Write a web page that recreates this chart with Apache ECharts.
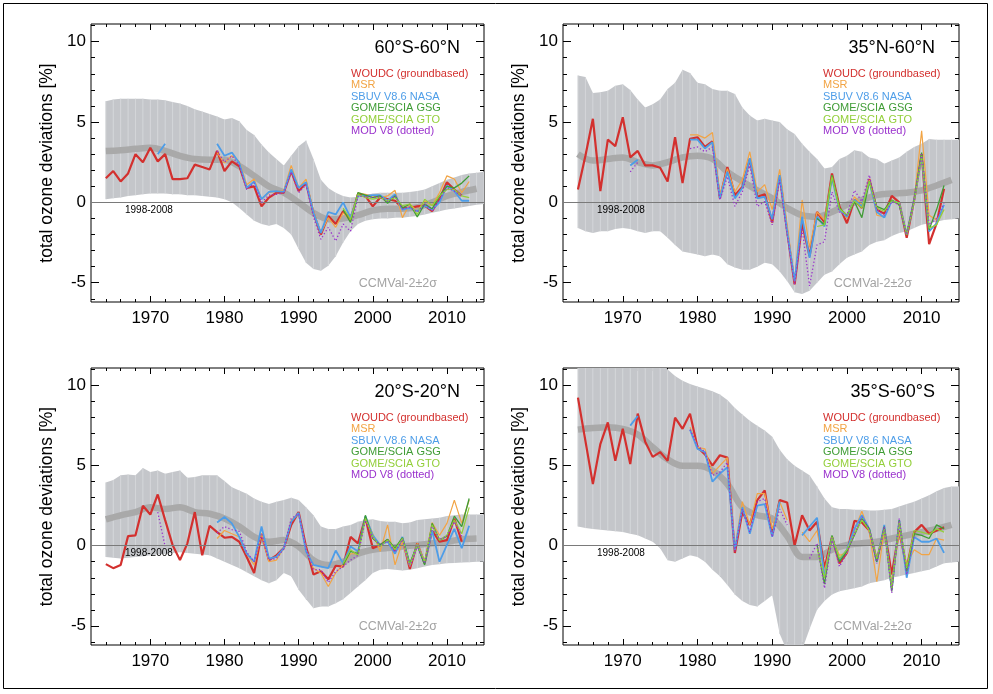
<!DOCTYPE html>
<html>
<head>
<meta charset="utf-8">
<script src="https://cdn.jsdelivr.net/npm/echarts@6/dist/echarts.min.js"></script>
<style>
  html, body { margin: 0; padding: 0; background: #fff; }
  #chart { width: 993px; height: 694px; }
</style>
</head>
<body>
<div id="chart"></div>
<script>
const _ = null;

// years of the observed series
const YEARS = [1964,1965,1966,1967,1968,1969,1970,1971,1972,1973,
               1974,1975,1976,1977,1978,1979,1980,1981,1982,1983,
               1984,1985,1986,1987,1988,1989,1990,1991,1992,1993,
               1994,1995,1996,1997,1998,1999,2000,2001,2002,2003,
               2004,2005,2006,2007,2008,2009,2010,2011,2012,2013];
// years of the CCMVal-2 envelope
const BAND_YEARS = YEARS.concat([2014, 2015]);
const MEAN_YEARS = [1964,1966,1968,1970,1972,1974,1976,1978,1980,1982,1984,1986,1988,
                    1990,1992,1994,1996,1998,2000,2002,2004,2006,2008,2010,2012,2014];

const X_LABELS = [1970, 1980, 1990, 2000, 2010];
const Y_LABELS = [-5, 0, 5, 10];
const SERIES_NAMES = ['WOUDC (groundbased)', 'MSR', 'SBUV V8.6 NASA', 'GOME/SCIA GSG', 'GOME/SCIA GTO', 'MOD V8 (dotted)'];
const TITLES = ['60°S-60°N', '35°N-60°N', '20°S-20°N', '35°S-60°S'];

// ---- 60S-60N
const P1_WOUDC = [1.5,1.95,1.3,1.8,3.0,2.5,3.4,2.55,3.0,1.45, 1.45,1.5,2.35,2.2,2.05,3.2,1.95,2.55,2.25,0.9,
                  1.0,-0.25,0.3,0.6,0.6,1.95,0.7,1.2,-0.65,-2.0, -0.85,-1.35,-0.55,-1.05,0.5,0.4,-0.25,0.3,0.2,0.1,
                  -0.35,-0.35,-0.25,-0.2,-0.55,0.2,1.25,0.8,0.4,_];
const P1_MSR   = [_,_,_,_,_,_,_,_,_,_, _,_,_,_,_,3.1,2.45,2.9,2.55,1.1,
                  1.45,0.2,0.6,0.7,0.75,2.3,0.9,1.45,-0.55,-1.9, -0.95,-1.55,-0.65,-1.15,0.6,0.5,0.4,0.3,0.4,0.75,
                  -0.95,-0.1,-0.55,0.1,-0.2,0.6,1.65,1.45,0.6,1.3];
const P1_SBUV  = [_,_,_,_,_,_,_,3.0,3.65,_, _,_,_,_,_,3.65,2.9,3.1,2.45,0.9,
                  1.3,0.2,0.65,0.7,0.65,2.05,0.9,1.25,-0.65,-1.9, -0.6,-0.75,0.0,-0.95,0.4,0.4,0.45,0.45,0.1,0.5,
                  -0.45,-0.35,-0.55,-0.2,-0.45,0.0,1.05,0.7,0.1,0.1];
const P1_GSG   = [_,_,_,_,_,_,_,_,_,_, _,_,_,_,_,_,_,_,_,_, _,_,_,_,_,_,_,_,_,_,
                  _,_,-0.45,-1.25,0.6,0.45,0.3,0.4,-0.05,0.4, -0.35,-0.1,-0.9,-0.1,-0.4,0.4,1.0,0.9,1.2,1.65];
const P1_GTO   = [_,_,_,_,_,_,_,_,_,_, _,_,_,_,_,_,_,_,_,_, _,_,_,_,_,_,_,_,_,_,
                  _,_,-0.35,-1.05,0.5,0.3,0.2,0.3,0.1,0.3, -0.2,-0.1,-0.75,0.2,-0.2,0.4,0.8,0.8,0.4,0.3];
const P1_MOD   = [_,_,_,_,_,_,_,_,_,_, _,_,_,_,_,3.2,2.5,2.9,2.3,0.8,
                  1.2,0.0,0.45,0.5,0.6,1.9,0.6,1.1,-0.9,-2.3, -1.55,-2.4,-1.35,-1.8,0.4,0.35,0.3,0.35,0.05,0.4,
                  -0.4,-0.3,-0.6,-0.1,-0.55,0.2,0.9,0.7,0.4,_];
const P1_HI    = [6.3,6.4,6.45,6.45,6.45,6.45,6.4,6.4,6.35,6.25, 6.15,6.0,5.8,5.65,5.5,5.35,5.15,5.25,5.05,4.5,
                  4.2,3.6,3.1,2.7,2.3,2.9,3.5,3.85,2.7,1.4, 0.9,0.6,0.4,0.3,0.35,0.45,0.55,0.6,0.6,0.6,
                  0.6,0.65,0.7,0.8,1.0,1.2,1.4,1.55,1.7,1.8, 1.85,1.9];
const P1_LO    = [0.2,0.25,0.3,0.4,0.45,0.5,0.55,0.55,0.55,0.5, 0.5,0.45,0.45,0.4,0.35,0.3,0.2,0.0,-0.35,-0.75,
                  -1.15,-1.35,-1.45,-1.35,-1.6,-2.0,-2.9,-3.75,-4.15,-4.25, -3.95,-3.35,-2.5,-1.8,-1.35,-1.15,-1.05,-1.0,-1.0,-0.95,
                  -0.95,-0.9,-0.85,-0.75,-0.65,-0.55,-0.45,-0.38,-0.3,-0.22, -0.15,-0.1];
const P1_MEAN  = [3.2,3.25,3.33,3.4,3.2,2.9,2.7,2.65,2.65,2.25,1.65,1.0,0.6,
                  0.0,-0.65,-1.05,-1.0,-0.8,-0.5,-0.4,-0.4,-0.3,0.0,0.4,0.65,0.85];

// ---- 35N-60N
const P2_WOUDC = [0.8,2.9,5.2,0.7,3.9,3.5,5.3,2.8,3.2,2.3, 2.3,2.15,1.3,4.05,1.2,3.95,4.05,3.45,3.8,0.25,
                  2.2,0.45,0.95,2.7,0.35,0.5,-1.25,1.7,-1.8,-5.1, -1.3,-3.35,-0.6,-1.25,1.8,-0.25,-1.3,0.15,-0.35,1.45,
                  -0.45,-0.7,0.4,0.0,-2.2,0.15,3.0,-2.6,-1.3,0.85];
const P2_MSR   = [_,_,_,_,_,_,_,_,_,_, _,_,_,_,_,4.2,4.2,4.0,4.35,0.45,
                  2.1,0.65,1.4,3.15,0.65,1.1,-0.45,2.05,-1.4,-4.9, 0.15,-2.8,-0.6,-1.1,1.7,-0.35,-1.0,0.35,-0.15,1.4,
                  -0.8,-0.9,0.15,-0.15,-1.9,0.15,4.45,-0.8,-1.1,-0.45];
const P2_SBUV  = [_,_,_,_,_,_,_,2.3,2.65,_, _,_,_,_,_,3.9,3.9,3.35,3.75,0.25,
                  1.9,0.25,0.9,2.75,0.25,0.35,-1.05,1.7,-1.8,-4.9, -0.9,-3.45,-0.9,-1.5,1.5,-0.45,-0.9,0.15,-0.25,1.3,
                  -0.6,-0.95,0.1,-0.05,-2.0,0.15,2.9,-1.8,-1.3,-0.15];
const P2_GSG   = [_,_,_,_,_,_,_,_,_,_, _,_,_,_,_,_,_,_,_,_, _,_,_,_,_,_,_,_,_,_,
                  _,_,-1.0,-1.4,1.7,-0.35,-0.8,0.05,-0.95,1.3, -0.25,-0.45,0.15,-0.15,-2.0,0.15,3.1,-1.7,-0.45,1.05];
const P2_GTO   = [_,_,_,_,_,_,_,_,_,_, _,_,_,_,_,_,_,_,_,_, _,_,_,_,_,_,_,_,_,_,
                  _,_,-1.5,-1.4,1.6,-0.4,-0.8,0.1,-0.35,1.3, -0.35,-0.55,0.1,-0.05,-2.0,0.05,2.9,-1.6,-1.4,-0.45];
const P2_MOD   = [_,_,_,_,_,_,_,1.9,2.5,_, _,_,_,_,_,3.35,3.45,3.15,3.45,0.15,
                  1.6,-0.25,0.65,2.3,-0.25,0.05,-1.4,1.4,-2.0,-5.1, -1.6,-5.2,-2.65,-2.45,0.65,-0.6,-0.8,0.75,0.05,1.7,
                  -0.45,-0.8,0.05,-0.15,-2.0,0.15,3.0,-1.4,-1.0,-0.05];
const P2_HI    = [7.9,7.8,6.8,6.85,6.95,7.25,7.35,7.0,6.4,5.9, 6.1,6.4,7.05,7.45,8.25,8.05,7.45,7.35,7.05,6.95,
                  6.95,6.75,5.9,5.4,5.1,5.2,5.1,5.0,4.55,4.25, 3.65,3.15,2.7,2.1,2.2,2.7,2.9,3.25,3.15,2.8,
                  2.7,2.4,2.6,2.8,3.15,3.45,3.65,3.95,3.9,3.9, 3.9,3.9];
const P2_LO    = [-1.6,-1.8,-1.9,-1.8,-1.8,-1.65,-1.6,-1.65,-1.8,-1.9, -1.8,-1.8,-2.2,-2.65,-3.05,-3.15,-3.25,-3.35,-3.25,-3.35,
                  -3.85,-4.05,-4.2,-4.2,-4.0,-3.75,-3.85,-4.3,-4.9,-5.6, -5.7,-5.5,-5.0,-4.5,-4.3,-3.85,-3.45,-3.25,-3.05,-2.65,
                  -2.45,-2.35,-2.1,-1.9,-1.8,-1.6,-1.4,-1.3,-1.2,-1.1, -1.05,-1.0];
const P2_MEAN  = [3.0,2.6,2.7,2.8,2.5,2.3,2.5,2.8,2.9,2.7,1.9,1.3,0.75,
                  0.25,-0.35,-0.8,-0.9,-0.6,-0.15,0.15,0.45,0.55,0.6,0.75,1.05,1.4];

// ---- 20S-20N
const P3_WOUDC = [-1.15,-1.4,-1.2,0.6,0.65,2.5,1.95,3.2,1.6,0.05, -0.9,0.15,2.1,-0.6,1.25,0.85,0.5,0.55,0.25,-0.7,
                  -1.7,0.75,-0.9,-0.6,-0.15,1.3,2.1,-0.05,-1.8,-1.6, -2.1,-1.25,-1.3,0.55,0.15,1.75,-0.15,0.05,0.35,-0.35,
                  0.45,-1.45,0.15,-1.1,0.95,0.25,0.35,1.7,0.25,_];
const P3_MSR   = [_,_,_,_,_,_,_,_,_,_, _,_,_,_,_,0.45,0.95,0.75,0.55,-0.5,
                  -1.2,0.75,-1.0,-0.9,-0.15,1.6,2.0,-0.25,-1.4,-1.7, -2.55,-1.7,-1.2,-0.5,-0.5,1.8,0.75,-0.35,1.3,-1.2,
                  0.25,-1.3,0.15,-1.0,1.45,0.65,1.4,2.85,1.4,2.85];
const P3_SBUV  = [_,_,_,_,_,_,_,_,_,_, _,_,_,_,_,1.45,1.8,1.4,0.55,-0.5,
                  -1.0,1.2,-0.8,-0.7,-0.15,1.5,2.05,-0.35,-1.2,-1.3, -1.4,-0.3,-1.1,-0.05,-0.35,1.85,0.65,0.05,0.25,-0.5,
                  0.55,-1.2,0.05,-1.1,0.95,-1.0,0.05,1.05,-0.15,1.25];
const P3_GSG   = [_,_,_,_,_,_,_,_,_,_, _,_,_,_,_,_,_,_,_,_, _,_,_,_,_,_,_,_,_,_,
                  _,_,-1.2,-0.35,-0.5,1.9,0.45,0.05,0.4,-0.15, 0.5,-1.1,0.05,-1.2,1.4,0.35,0.6,1.85,1.2,2.95];
const P3_GTO   = [_,_,_,_,_,_,_,_,_,_, _,_,_,_,_,_,_,_,_,_, _,_,_,_,_,_,_,_,_,_,
                  _,_,-1.1,-0.25,-0.6,1.7,0.55,-0.05,0.35,-0.25, 0.45,-1.2,0.05,-1.0,1.3,0.35,0.65,1.6,0.75,2.4];
const P3_MOD   = [_,_,_,_,_,_,_,2.1,-0.05,_, _,_,_,_,_,0.8,1.2,1.0,0.9,-0.4,
                  -1.0,0.7,-0.9,-0.8,-0.2,1.7,2.0,-0.2,-1.5,-1.5, -2.3,-1.6,-1.3,-0.9,-0.6,1.6,0.5,0.0,0.3,-0.4,
                  0.4,-1.3,0.0,-1.1,1.2,0.4,0.6,1.5,0.6,_];
const P3_HI    = [3.95,4.1,4.4,4.45,4.4,4.85,4.6,4.7,4.5,4.6, 4.7,4.25,4.3,4.4,4.4,4.4,4.05,3.65,3.45,3.25,
                  2.95,2.75,2.6,2.75,2.85,3.0,2.85,2.4,1.9,1.2, 1.05,1.05,1.2,1.3,1.5,1.6,1.65,1.55,1.5,1.5,
                  1.4,1.45,1.6,1.65,1.7,1.75,1.85,1.9,1.95,1.95, 1.95,1.95];
const P3_LO    = [-0.7,-0.75,-0.8,-0.75,-0.7,-0.65,-0.6,-0.55,-0.5,-0.45, -0.4,-0.45,-0.5,-0.55,-0.6,-0.8,-1.0,-1.2,-1.4,-1.65,
                  -1.9,-2.15,-2.35,-2.15,-1.7,-1.9,-2.75,-3.35,-3.9,-3.8, -3.8,-3.6,-3.35,-2.95,-2.55,-2.15,-1.7,-1.5,-1.45,-1.5,
                  -1.55,-1.5,-1.4,-1.3,-1.2,-1.15,-1.1,-1.08,-1.05,-1.03, -1.0,-1.0];
const P3_MEAN  = [1.65,1.9,2.1,2.4,2.3,2.4,2.1,2.0,1.7,1.2,0.55,0.25,0.35,
                  -0.05,-0.9,-1.2,-1.0,-0.5,-0.25,-0.15,-0.05,0.05,0.15,0.25,0.4,0.45];

// ---- 35S-60S
const P4_WOUDC = [9.25,6.55,3.85,6.35,7.7,5.3,7.3,5.1,8.25,6.5, 5.55,5.85,5.3,8.0,7.3,8.25,6.15,5.7,5.0,5.65,
                  5.5,-0.45,2.1,1.3,2.85,3.45,0.65,2.85,2.7,0.0, 1.9,0.95,1.5,-1.4,0.55,-1.1,-0.45,1.55,1.45,0.95,
                  -0.9,1.05,-1.8,0.95,-1.4,0.85,1.3,0.75,0.95,1.15];
const P4_MSR   = [_,_,_,_,_,_,_,_,_,_, _,_,_,_,_,7.4,6.15,6.05,4.5,5.0,
                  5.5,-0.15,2.75,1.3,3.25,3.25,1.05,2.75,1.6,_, 0.85,0.25,0.95,-1.6,0.45,-0.6,-0.45,0.95,2.15,0.85,
                  -2.25,0.95,-2.25,0.85,-1.2,-0.25,-0.55,-0.55,0.45,0.35];
const P4_SBUV  = [_,_,_,_,_,_,_,7.5,8.1,_, _,_,_,_,_,7.25,6.05,5.85,4.0,4.5,
                  4.9,-0.25,2.4,0.75,2.5,2.6,0.55,2.75,_,_, 0.65,1.2,1.75,-2.0,0.55,-0.9,-0.25,1.05,1.9,1.05,
                  -1.0,1.3,-2.75,1.6,-2.0,0.55,0.25,0.25,0.45,-0.45];
const P4_GSG   = [_,_,_,_,_,_,_,_,_,_, _,_,_,_,_,_,_,_,_,_, _,_,_,_,_,_,_,_,_,_,
                  _,_,0.05,-2.4,0.65,-1.0,-0.35,0.65,1.7,1.05, -1.0,1.2,-2.85,1.6,-1.6,0.75,0.65,0.45,1.3,1.05];
const P4_GTO   = [_,_,_,_,_,_,_,_,_,_, _,_,_,_,_,_,_,_,_,_, _,_,_,_,_,_,_,_,_,_,
                  _,_,-0.15,-2.0,0.55,-0.8,-0.25,0.75,1.6,0.95, -0.8,1.05,-2.65,1.5,-1.4,0.95,0.85,0.7,1.05,0.85];
const P4_MOD   = [_,_,_,_,_,_,_,_,_,_, _,_,_,_,_,7.25,6.25,5.85,4.4,4.6,
                  5.2,-0.35,2.3,0.85,2.75,2.95,0.55,2.3,1.3,_, _,-0.8,0.15,-2.65,0.45,-1.3,-0.45,0.75,1.8,1.05,
                  -1.1,1.2,-2.95,1.7,-1.8,0.65,_,_,_,_];
const P4_HI    = [12.5,12.5,12.5,12.5,12.5,12.5,12.5,12.5,12.5,12.5, 12.5,11.6,11.0,10.6,10.3,10.1,9.95,9.8,9.65,9.45,
                  9.1,8.6,8.2,7.8,7.5,7.2,6.8,6.0,5.4,5.0, 4.7,4.4,3.7,2.95,2.4,2.3,2.3,2.25,2.25,2.2,
                  2.2,2.25,2.3,2.45,2.6,2.75,2.95,3.15,3.4,3.6, 3.7,3.7];
const P4_LO    = [1.2,1.1,1.05,1.0,0.95,0.9,0.85,0.75,0.65,0.45, 0.25,-0.15,-0.9,-1.0,-0.8,-0.6,-0.7,-1.0,-1.5,-1.9,
                  -2.45,-3.05,-3.45,-3.7,-3.8,-3.45,-3.1,-5.5,-6.6,-6.8, -6.5,-5.2,-4.0,-3.45,-3.05,-2.85,-2.75,-2.65,-2.55,-2.35,
                  -2.25,-2.15,-2.0,-1.9,-1.8,-1.7,-1.6,-1.5,-1.3,-1.1, -1.05,-1.0];
const P4_MEAN  = [7.25,7.35,7.4,7.3,6.95,6.15,5.4,5.0,5.0,4.7,3.85,2.4,1.9,
                  1.7,0.6,-0.7,-0.7,-0.25,0.05,0.15,0.25,0.45,0.65,0.85,1.05,1.3];

const PANELS = [
  { series: [P1_WOUDC, P1_MSR, P1_SBUV, P1_GSG, P1_GTO, P1_MOD], hi: P1_HI, lo: P1_LO, mean: P1_MEAN },
  { series: [P2_WOUDC, P2_MSR, P2_SBUV, P2_GSG, P2_GTO, P2_MOD], hi: P2_HI, lo: P2_LO, mean: P2_MEAN },
  { series: [P3_WOUDC, P3_MSR, P3_SBUV, P3_GSG, P3_GTO, P3_MOD], hi: P3_HI, lo: P3_LO, mean: P3_MEAN },
  { series: [P4_WOUDC, P4_MSR, P4_SBUV, P4_GSG, P4_GTO, P4_MOD], hi: P4_HI, lo: P4_LO, mean: P4_MEAN }
];

// layout / style
const FONT = '"Liberation Sans", Arial, Helvetica, sans-serif';
const LAYOUT = [
  { left: 91,  top: 24,  width: 393, height: 278 },
  { left: 563, top: 24,  width: 396, height: 278 },
  { left: 91,  top: 368, width: 393, height: 277 },
  { left: 563, top: 368, width: 396, height: 277 }
];
const X_MIN = 1962, X_MAX = 2015, Y_MIN = -6.2, Y_MAX = 11.1;
const COLORS = ['#d3302e', '#f2a444', '#4d9de8', '#3f9c35', '#93cf3a', '#9a32cd'];
const WIDTHS = [2.2, 1.2, 1.8, 1.3, 1.2, 1.3];
const BAND_FILL = '#c4c6ca';
const BAND_HATCH = '#d3d5d8';

const minorX = [], majorY = Y_LABELS, minorY = [];
for (let y = 1964; y <= 2014; y += 2) minorX.push(y);
for (let v = -6; v <= 11; v++) minorY.push(v);

function pairs(xs, ys) { return xs.map((x, i) => [x, ys[i]]); }

function bandRenderer(yrs, lo, hi) {
  return function (params, api) {
    const i = params.dataIndex;
    const b1 = api.coord([yrs[i], lo[i]]);
    const t1 = api.coord([yrs[i], hi[i]]);
    const kids = [];
    if (i < yrs.length - 1) {
      const t2 = api.coord([yrs[i + 1], hi[i + 1]]);
      const b2 = api.coord([yrs[i + 1], lo[i + 1]]);
      kids.push({ type: 'polygon', shape: { points: [b1, t1, t2, b2] }, style: { fill: BAND_FILL } });
    }
    kids.push({ type: 'line', shape: { x1: t1[0], y1: t1[1], x2: b1[0], y2: b1[1] },
                style: { stroke: BAND_HATCH, lineWidth: 1 } });
    return { type: 'group', children: kids };
  };
}

function xAx(p, pos, ticks, len, labels) {
  return {
    type: 'value', gridIndex: p, position: pos, min: X_MIN, max: X_MAX,
    axisLine: { show: false, onZero: false }, splitLine: { show: false },
    axisTick: { show: true, inside: true, length: len, customValues: ticks, lineStyle: { color: '#000', width: 1 } },
    axisLabel: labels ? { show: true, customValues: labels, fontSize: 17, color: '#000', margin: 8,
                          fontFamily: FONT, formatter: v => String(v) }
                      : { show: false }
  };
}
function yAx(p, pos, ticks, len, labels) {
  const a = {
    type: 'value', gridIndex: p, position: pos, min: Y_MIN, max: Y_MAX,
    axisLine: { show: false, onZero: false }, splitLine: { show: false },
    axisTick: { show: true, inside: true, length: len, customValues: ticks, lineStyle: { color: '#000', width: 1 } },
    axisLabel: labels ? { show: true, customValues: labels, fontSize: 17, color: '#000', margin: 5,
                          fontFamily: FONT, formatter: v => String(v) }
                      : { show: false }
  };
  if (labels) {
    a.name = 'total ozone deviations [%]';
    a.nameLocation = 'middle';
    a.nameGap = 35;
    a.nameTextStyle = { fontSize: 17.5, color: '#000', fontFamily: FONT };
  }
  return a;
}

const grids = [], xAxes = [], yAxes = [], series = [], graphics = [];

graphics.push({ type: 'rect', z: 100, shape: { x: 3.5, y: 3.5, width: 984, height: 685 },
                style: { fill: 'none', stroke: '#000', lineWidth: 1 }, silent: true });

PANELS.forEach((panel, p) => {
  const L = LAYOUT[p];
  grids.push({ left: L.left, top: L.top, width: L.width, height: L.height,
               show: true, borderColor: '#000', borderWidth: 1, backgroundColor: 'transparent' });

  const xi = xAxes.length, yi = yAxes.length;
  xAxes.push(xAx(p, 'bottom', minorX, 3, X_LABELS), xAx(p, 'bottom', X_LABELS, 6, null),
             xAx(p, 'top', minorX, 3, null), xAx(p, 'top', X_LABELS, 6, null));
  yAxes.push(yAx(p, 'left', minorY, 4, Y_LABELS), yAx(p, 'left', majorY, 8, null),
             yAx(p, 'right', minorY, 4, null), yAx(p, 'right', majorY, 8, null));

  // model envelope
  series.push({
    type: 'custom', xAxisIndex: xi, yAxisIndex: yi, z: 1, clip: true, silent: true,
    data: BAND_YEARS.map((y, i) => [y, panel.lo[i], panel.hi[i]]),
    encode: { x: 0, y: [1, 2] },
    renderItem: bandRenderer(BAND_YEARS, panel.lo, panel.hi)
  });
  // model mean + zero line
  series.push({
    type: 'line', xAxisIndex: xi, yAxisIndex: yi, z: 2, silent: true,
    data: pairs(MEAN_YEARS, panel.mean), smooth: 0.35, symbol: 'none',
    lineStyle: { color: '#a9a9a9', width: 6.5 },
    markLine: { silent: true, symbol: 'none', label: { show: false },
                lineStyle: { color: '#7a7a7a', width: 1, type: 'solid' }, data: [{ yAxis: 0 }] }
  });
  // observations
  panel.series.forEach((vals, k) => {
    series.push({
      type: 'line', name: SERIES_NAMES[k], xAxisIndex: xi, yAxisIndex: yi, z: 3 + k,
      data: pairs(YEARS, vals), symbol: 'none', connectNulls: false, silent: true,
      lineStyle: { color: COLORS[k], width: WIDTHS[k], type: k === 5 ? [1.3, 2.2] : 'solid' }
    });
  });

  // panel texts
  const right = L.left + L.width, bottom = L.top + L.height;
  const zeroY = L.top + (Y_MAX / (Y_MAX - Y_MIN)) * L.height;
  graphics.push({ type: 'text', z: 100, x: right - 24, y: L.top + 24, silent: true,
                  style: { text: TITLES[p], fontSize: 18, fontFamily: FONT, fill: '#000', align: 'right', verticalAlign: 'middle' } });
  SERIES_NAMES.forEach((nm, k) => {
    graphics.push({ type: 'text', z: 100, x: L.left + 260, y: L.top + 50 + k * 11.4, silent: true,
                    style: { text: nm, fontSize: 11, fontFamily: FONT, fill: COLORS[k], align: 'left', verticalAlign: 'middle' } });
  });
  graphics.push({ type: 'text', z: 100, x: L.left + 34, y: zeroY + 8, silent: true,
                  style: { text: '1998-2008', fontSize: 10, fontFamily: FONT, fill: '#000', align: 'left', verticalAlign: 'middle' } });
  graphics.push({ type: 'text', z: 100, x: right - 47, y: bottom - 18, silent: true,
                  style: { text: 'CCMVal-2±2σ', fontSize: 12.5, fontFamily: FONT, fill: '#a3a3a3', align: 'right', verticalAlign: 'middle' } });
});

const chart = echarts.init(document.getElementById('chart'), null, { renderer: 'canvas' });
chart.setOption({
  animation: false,
  backgroundColor: '#fff',
  grid: grids,
  xAxis: xAxes,
  yAxis: yAxes,
  series: series,
  graphic: graphics
});
</script>
</body>
</html>
